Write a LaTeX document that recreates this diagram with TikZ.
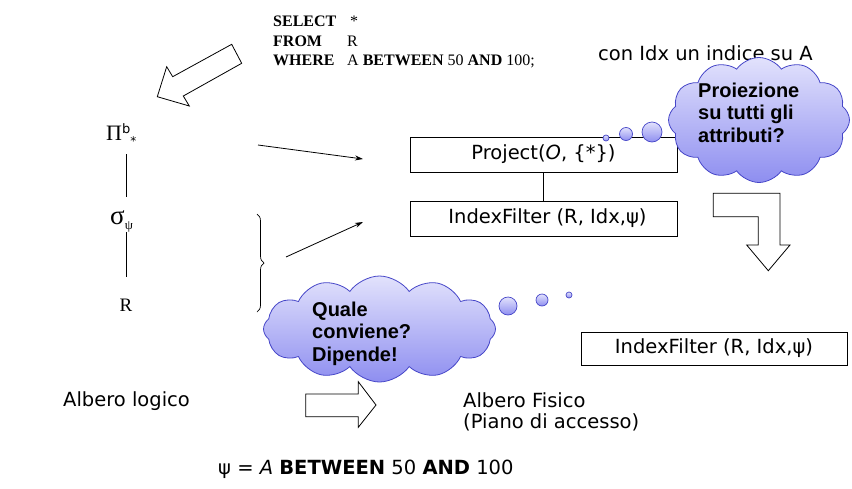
\documentclass[tikz,border=0pt]{standalone}
\usepackage{fontspec}
\setmainfont{DejaVu Sans}
\newfontfamily\arialf{Liberation Sans}
\newfontfamily\timesf{Liberation Serif}
\usetikzlibrary{shapes.symbols,decorations.pathreplacing,arrows.meta}
\definecolor{cloudline}{HTML}{4646C8}
\definecolor{cloudtop}{HTML}{E2E2FC}
\definecolor{cloudbot}{HTML}{8E8EF0}
\tikzset{
  main/.style={inner sep=0pt, font=\fontsize{19.5}{23}\selectfont},
  opbox/.style={draw, line width=0.8pt, inner sep=0pt, font=\fontsize{19.5}{23}\selectfont},
  cloudy/.style={cloud, cloud puffs=12, cloud puff arc=110, cloud ignores aspect, draw=cloudline, line width=0.8pt,
    top color=cloudtop, bottom color=cloudbot, inner sep=0pt},
  bubble/.style={circle, draw=cloudline, line width=0.7pt, top color=cloudtop, bottom color=cloudbot, inner sep=0pt},
  cloudtext/.style={inner sep=0pt, align=left, font=\arialf\bfseries\fontsize{20}{22.5}\selectfont},
  sqltext/.style={inner sep=0pt, font=\timesf\fontsize{16}{19}\selectfont},
  blockarrow/.style={draw, line width=0.8pt, fill=white, line join=miter},
  thinarrow/.style={line width=0.8pt, -{Stealth[length=8pt,width=5pt]}},
  treeline/.style={line width=0.8pt}
}
\begin{document}
\begin{tikzpicture}[x=1pt,y=-1pt]
\useasboundingbox (0,0) rectangle (852,488);

% SQL query
\node[sqltext, anchor=base west] (s1) at (273,26.7) {\textbf{SELECT}};
\node[sqltext, anchor=base west] (s1v) at (350,26.7) {*};
\node[sqltext, anchor=base west] (s2) at (273,46) {\textbf{FROM}};
\node[sqltext, anchor=base west] (s2v) at (347,46) {R};
\node[sqltext, anchor=base west] (s3) at (273,65) {\textbf{WHERE}};
\node[sqltext, anchor=base west] (s3v) at (347,65) {A \textbf{BETWEEN} 50 \textbf{AND} 100;};

% block arrow down-left
\draw[blockarrow] (231.7,44.3) -- (241.7,63.3) -- (183.3,96) -- (189.3,106) -- (157.3,96.7) -- (166.7,66.7) -- (172.7,76.7) -- cycle;

% annotation
\node[main, anchor=base west] (idx) at (598,60) {con Idx un indice su A};

% logical tree
\node[inner sep=0pt, anchor=base west] (pi) at (106,140) {{\timesf\fontsize{22}{22}\selectfont Π}\raisebox{7pt}{\fontsize{13}{13}\selectfont b}\raisebox{-5pt}{\fontsize{12}{12}\selectfont *}};
\node[inner sep=0pt, anchor=base west] (sig) at (110,224) {{\timesf\fontsize{27}{27}\selectfont σ}\raisebox{-5pt}{\timesf\fontsize{13}{13}\selectfont ψ}};
\node[inner sep=0pt, anchor=base] (r) at (126,311) {\timesf\fontsize{19}{19}\selectfont R};
\coordinate (l1a) at (126,154); \coordinate (l1b) at (126,197);
\coordinate (l2a) at (126,232); \coordinate (l2b) at (126,277);
\draw[treeline] (l1a) -- (l1b);
\draw[treeline] (l2a) -- (l2b);

% brace
\coordinate (bra) at (257,214); \coordinate (brb) at (257,312);
\draw[line width=0.7pt, decorate, decoration={brace, amplitude=7pt}] (bra) -- (brb);

% thin arrows
\coordinate (a1s) at (258,145); \coordinate (a1e) at (363,159);
\coordinate (a2s) at (286,257); \coordinate (a2e) at (363,222);
\draw[thinarrow] (a1s) -- (a1e);
\draw[thinarrow] (a2s) -- (a2e);

% physical plan
\node[opbox, minimum width=267pt, minimum height=35pt] (proj) at (543.5,154.5) {Project(\textit{O}, \{*\})};
\node[opbox, minimum width=267pt, minimum height=35pt] (if1) at (543.5,218.5) {\hspace*{8pt}IndexFilter (R, Idx,ψ)};
\draw[line width=0.8pt] (proj) -- (if1);

% cloud 1
\node[cloudy, minimum width=181pt, minimum height=125pt] (c1) at (759,120) {};
\node[cloudtext, anchor=north west] (c1t) at (698,82.7) {Proiezione\\su tutti gli\\attributi?};
\node[bubble, minimum size=6pt] (b11) at (606,138) {};
\node[bubble, minimum size=13pt] (b12) at (626,134) {};
\node[bubble, minimum size=20pt] (b13) at (652,132) {};

% bent block arrow
\draw[blockarrow] (713.3,193.3) -- (780,193.3) -- (780,245) -- (790,245) -- (768.3,270.7) -- (746.7,245) -- (758.3,245) -- (758.3,216.7) -- (713.3,216.7) -- cycle;

% second plan
\node[opbox, minimum width=266pt, minimum height=33pt] (if2) at (714,348.5) {IndexFilter (R, Idx,ψ)};

% cloud 2
\node[cloudy, minimum width=232pt, minimum height=106pt] (c2) at (379.5,329) {};
\node[cloudtext, anchor=north west] (c2t) at (312,301.7) {Quale\\conviene?\\Dipende!};
\node[bubble, minimum size=18pt] (b21) at (508,306) {};
\node[bubble, minimum size=12pt] (b22) at (542,300) {};
\node[bubble, minimum size=6pt] (b23) at (569,295) {};

% labels
\node[main, anchor=base west] (al) at (63,406) {Albero logico};
\draw[blockarrow] (305.7,394) -- (358.3,394) -- (358.3,381.7) -- (376,405) -- (358.3,427.3) -- (358.3,416.7) -- (305.7,416.7) -- cycle;
\node[main, anchor=base west] (af) at (463,407) {Albero Fisico};
\node[main, anchor=base west] (pa) at (463,428) {(Piano di accesso)};
\node[main, anchor=base west] (psi) at (218,474) {ψ = \textit{A} \textbf{BETWEEN} 50 \textbf{AND} 100};
\end{tikzpicture}
\end{document}
